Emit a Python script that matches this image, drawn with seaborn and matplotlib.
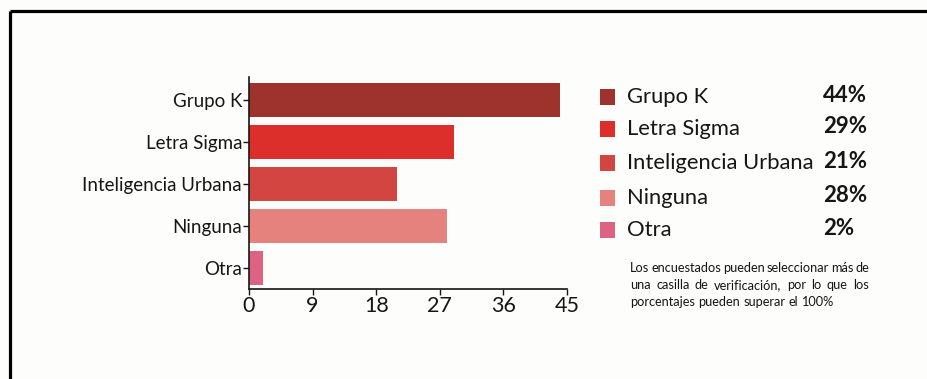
import matplotlib
matplotlib.use("Agg")
import matplotlib.pyplot as plt
from matplotlib.patches import Rectangle
from matplotlib.lines import Line2D
import seaborn as sns
import pandas as pd

categories = ["Grupo K", "Letra Sigma", "Inteligencia Urbana", "Ninguna", "Otra"]
values = [44, 29, 21, 28, 2]
pct_labels = ["44%", "29%", "21%", "28%", "2%"]
colors = ["#9E322D", "#DC2F2C", "#D34541", "#E5827E", "#DC6482"]
x_ticks = [0, 9, 18, 27, 36, 45]
note_lines = [
    "Los encuestados pueden seleccionar más de",
    "una casilla de verificación, por lo que los",
    "porcentajes pueden superar el 100%",
]

sns.set_theme(style="ticks")
plt.rcParams["font.family"] = ["Lato", "DejaVu Sans"]

bg = "#FDFDFB"
ink = "#161616"
W, H = 928, 379
fig = plt.figure(figsize=(W / 100, H / 100), dpi=100, facecolor=bg)
ax = fig.add_axes([249 / W, 1 - 289 / H, 318 / W, 212 / H], facecolor=bg)

df = pd.DataFrame({"categoria": categories, "valor": values})
sns.barplot(data=df, y="categoria", x="valor", hue="categoria",
            palette=colors, orient="h", width=0.8, legend=False,
            saturation=1, edgecolor="none", ax=ax)

ax.set_xlim(0, 45)
ax.set_ylim(4.5, -0.55)
ax.set_xticks(x_ticks)
ax.set_xticklabels([str(t) for t in x_ticks], fontsize=15.5, color=ink)
ax.tick_params(axis="y", labelsize=13.5, labelcolor=ink, length=4,
               width=1, color=ink, pad=1)
ax.tick_params(axis="x", length=4, width=1, color=ink, pad=1)
ax.set_xlabel("")
ax.set_ylabel("")
sns.despine(ax=ax)
for s in ("left", "bottom"):
    ax.spines[s].set_color(ink)
    ax.spines[s].set_linewidth(1.2)

# Legend with values
rows_y = [97, 129, 163, 198, 230]
for cat, col, pct, y in zip(categories, colors, pct_labels, rows_y):
    fig.patches.append(Rectangle((600 / W, 1 - (y + 8) / H), 15 / W, 16 / H,
                                 transform=fig.transFigure, facecolor=col,
                                 edgecolor="none"))
    fig.text(627 / W, 1 - y / H, cat, fontsize=15.8, color=ink,
             va="center", ha="left")
    fig.text(823 / W, 1 - (y - 2) / H, pct, fontsize=16, fontweight="bold",
             color=ink, va="center", ha="left")

# Justified footnote
note_left, note_right = 630, 869
note_size = 9.2
fig.canvas.draw()
renderer = fig.canvas.get_renderer()
probe = fig.text(0, 0, "a a", fontsize=note_size)
probe2 = fig.text(0, 0, "aa", fontsize=note_size)
space_w = (probe.get_window_extent(renderer).width
           - probe2.get_window_extent(renderer).width)
probe.remove()
probe2.remove()
for i, line in enumerate(note_lines):
    y = 1 - (268 + 17 * i) / H
    words = line.split(" ")
    texts = [fig.text(0, y, w, fontsize=note_size, color=ink, va="center",
                      ha="left") for w in words]
    widths = [t.get_window_extent(renderer).width for t in texts]
    last = i == len(note_lines) - 1
    gap = space_w if last else (note_right - note_left - sum(widths)) / (len(words) - 1)
    x = note_left
    for t, w in zip(texts, widths):
        t.set_x(x / W)
        x += w + gap

# Frame lines along the top and left edges
fig.add_artist(Line2D([10.5 / W, 1.0], [1 - 11 / H, 1 - 11 / H],
                      transform=fig.transFigure, color="black", linewidth=2.3,
                      solid_capstyle="butt"))
fig.add_artist(Line2D([10.5 / W, 10.5 / W], [0.0, 1 - 11 / H],
                      transform=fig.transFigure, color="black", linewidth=2.3,
                      solid_capstyle="butt"))

fig.savefig("out.png", dpi=100, facecolor=bg)
